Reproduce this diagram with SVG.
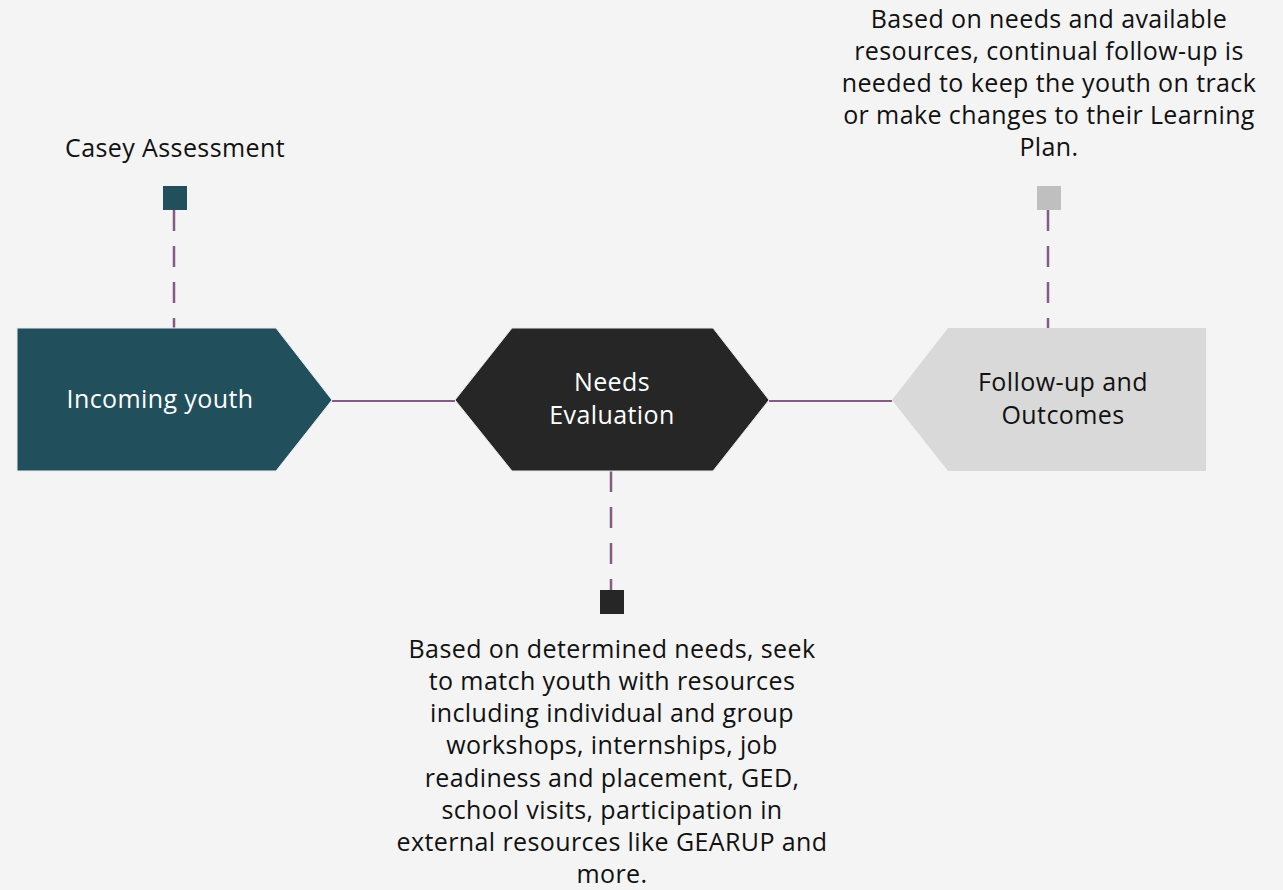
<svg xmlns="http://www.w3.org/2000/svg" width="1283" height="890" viewBox="0 0 1283 890">
<style>
.t{font-family:"Open Sans","Noto Sans",sans-serif;font-size:25px;letter-spacing:0.4px;text-anchor:middle;fill:#111}
.w{fill:#fff}
.dash{stroke:#855A85;stroke-width:2.5;stroke-dasharray:21 15;fill:none}
.solid{stroke:#855A85;stroke-width:2;fill:none}
</style>
<rect width="1283" height="890" fill="#F4F4F4"/>
<g id="connectors">
<line class="solid" x1="332" y1="401" x2="455" y2="401"/>
<line class="solid" x1="769" y1="401" x2="892" y2="401"/>
<line class="dash" x1="174" y1="210" x2="174" y2="328"/>
<line class="dash" x1="611" y1="471" x2="611" y2="590"/>
<line class="dash" x1="1048" y1="210" x2="1048" y2="328"/>
</g>
<g id="incoming">
<polygon points="17,328 276,328 332,400 276,471 17,471" fill="#224F5C" stroke="#E8EEF0" stroke-width="1"/>
<text class="t w" x="160" y="408">Incoming youth</text>
</g>
<g id="needs">
<polygon points="512,328 713,328 769,400 713,471 512,471 455,400" fill="#262626" stroke="#E8E8E8" stroke-width="1"/>
<text class="t w" x="612" y="391">Needs</text>
<text class="t w" x="612" y="424">Evaluation</text>
</g>
<g id="followup">
<polygon points="948,328 1206,328 1206,471 948,471 892,400" fill="#D9D9D9"/>
<text class="t" x="1063" y="391">Follow-up and</text>
<text class="t" x="1063" y="424">Outcomes</text>
</g>
<g id="casey">
<rect x="163" y="186" width="24" height="24" fill="#224F5C"/>
<text class="t" x="175" y="157">Casey Assessment</text>
</g>
<g id="needs-detail">
<rect x="600" y="590" width="24" height="24" fill="#262626"/>
<text class="t" x="612" y="658">Based on determined needs, seek</text>
<text class="t" x="612" y="690">to match youth with resources</text>
<text class="t" x="612" y="722">including individual and group</text>
<text class="t" x="612" y="754">workshops, internships, job</text>
<text class="t" x="612" y="787">readiness and placement, GED,</text>
<text class="t" x="612" y="819">school visits, participation in</text>
<text class="t" x="612" y="851">external resources like GEARUP and</text>
<text class="t" x="612" y="883">more.</text>
</g>
<g id="followup-detail">
<rect x="1037" y="186" width="24" height="24" fill="#BFBFBF"/>
<text class="t" x="1049" y="28">Based on needs and available</text>
<text class="t" x="1049" y="60">resources, continual follow-up is</text>
<text class="t" x="1049" y="92">needed to keep the youth on track</text>
<text class="t" x="1049" y="124">or make changes to their Learning</text>
<text class="t" x="1049" y="156">Plan.</text>
</g>
</svg>
